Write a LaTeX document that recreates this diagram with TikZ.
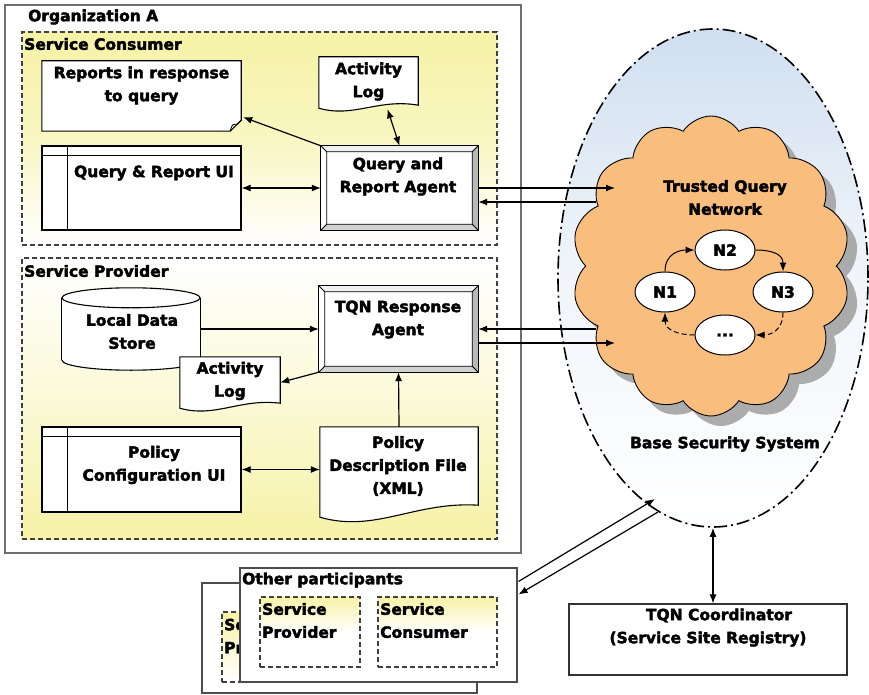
\documentclass[tikz,border=0pt]{standalone}
\usepackage{fontspec}
\setmainfont{DejaVu Sans}
\newfontfamily\heavyfont{DejaVu Sans Bold}[FakeBold=2.5]
\usetikzlibrary{shapes.geometric,shapes.symbols,shadows,calc,arrows.meta}

\definecolor{ylw}{RGB}{246,242,166}
\definecolor{skyb}{RGB}{208,223,240}
\definecolor{cloudor}{RGB}{249,189,125}
\definecolor{framegray}{RGB}{110,110,110}

\tikzset{
  lbl/.style={font=\fontsize{15.5}{23}\selectfont\heavyfont, inner sep=0pt, align=center},
  lbll/.style={lbl, align=left, anchor=west},
  area/.style={rectangle, inner sep=0pt, draw=black!75, dash pattern=on 5pt off 3pt, line width=1.1pt},
  box/.style={rectangle, inner sep=0pt, line width=1.2pt},
  ghost/.style={rectangle, inner sep=0pt, draw=none},
  arr/.style={-{Latex[length=9pt,width=7pt]}, line width=1.2pt},
  darr/.style={{Latex[length=9pt,width=7pt]}-{Latex[length=9pt,width=7pt]}, line width=1.2pt},
  net/.style={ellipse, draw, fill=white, line width=1pt, minimum width=60pt, minimum height=40pt, inner sep=0pt, font=\fontsize{15.5}{18}\selectfont\heavyfont},
}

% raised 3D frame around a named rectangular node
\newcommand\bevelframe[1]{%
  \fill[gray!12] (#1.north west) -- (#1.north east) -- ($(#1.north east)+(-6,6)$) -- ($(#1.north west)+(6,6)$) -- cycle;
  \fill[white] (#1.north west) -- ($(#1.north west)+(6,6)$) -- ($(#1.south west)+(6,-6)$) -- (#1.south west) -- cycle;
  \fill[gray!55] (#1.north east) -- (#1.south east) -- ($(#1.south east)+(-6,-6)$) -- ($(#1.north east)+(-6,6)$) -- cycle;
  \fill[gray!35] (#1.south west) -- (#1.south east) -- ($(#1.south east)+(-6,-6)$) -- ($(#1.south west)+(6,-6)$) -- cycle;
  \fill[white] ($(#1.north west)+(6,6)$) rectangle ($(#1.south east)+(-6,-6)$);
  \draw[line width=1.2pt] (#1.north west) rectangle (#1.south east);
  \draw[line width=0.8pt] ($(#1.north west)+(6,6)$) rectangle ($(#1.south east)+(-6,-6)$)
    (#1.north west) -- ($(#1.north west)+(6,6)$) (#1.north east) -- ($(#1.north east)+(-6,6)$)
    (#1.south west) -- ($(#1.south west)+(6,-6)$) (#1.south east) -- ($(#1.south east)+(-6,-6)$);
}

% document sheet with a wavy lower edge: node, rise of right end, wave amplitude
\newcommand\wavydoc[3]{%
  \filldraw[fill=white, line width=1.1pt] (#1.south west) -- (#1.north west) -- (#1.north east) -- ($(#1.south east)+(0,-#2)$)
    .. controls ($(#1.south east)!0.4!(#1.south west)+(0,-#3)$) and ($(#1.south east)!0.65!(#1.south west)+(0,#3)$) .. (#1.south west) -- cycle;
}

% window-like user interface panel
\newcommand\uipanel[1]{%
  \draw[line width=1.2pt] ($(#1.north west)+(26,0)$) -- ($(#1.south west)+(26,0)$)
    ($(#1.north west)+(0,10)$) -- ($(#1.north east)+(0,10)$);
}

\begin{document}
\begin{tikzpicture}[x=1pt,y=-1pt]
\useasboundingbox (0,0) rectangle (869,695);

% ---------- Base security system and trusted query network ----------
\node[ellipse, draw, line width=1.6pt, dash pattern=on 13pt off 4pt on 2pt off 4pt,
      top color=skyb, bottom color=white, middle color=skyb!30,
      minimum width=310pt, minimum height=498pt, inner sep=0pt] (bss) at (713,278) {};
\node[lbl] (bsst) at (725,444) {Base Security System};

\node[cloud, cloud puffs=14, cloud puff arc=115, aspect=0.95, draw, line width=0.9pt,
      fill=cloudor, minimum width=278pt, minimum height=300pt, inner sep=0pt,
      drop shadow={shadow xshift=10pt, shadow yshift=-10pt, fill=gray!80, opacity=0.8}] (tqnet) at (711,266) {};
\node[lbl] (tqnt) at (725,197.5) {Trusted Query\\Network};

\node[net] (n1) at (665,292) {N1};
\node[net] (n2) at (725,250) {N2};
\node[net] (n3) at (783,292) {N3};
\node[net] (nd) at (725,335) {...};
\draw[arr, line width=1pt] (n1.north) .. controls +(0,-18) and +(-15,0) .. (n2.west);
\draw[arr, line width=1pt] (n2.east) .. controls +(15,0) and +(0,-18) .. (n3.north);
\draw[arr, line width=1pt, dash pattern=on 5pt off 3pt] (n3.south) .. controls +(0,18) and +(15,0) .. (nd.east);
\draw[arr, line width=1pt, dash pattern=on 5pt off 3pt] (nd.west) .. controls +(-15,0) and +(0,18) .. (n1.south);

% ---------- Organization A ----------
\node[draw=framegray, line width=1.3pt, fill=white, minimum width=516pt, minimum height=548pt, inner sep=0pt] (orga) at (263,279) {};
\node[lbll] (orgat) at (28,17) {Organization A};

\node[area, top color=ylw, bottom color=white, middle color=ylw!70, minimum width=475pt, minimum height=213pt] (sc) at (259.5,138.5) {};
\node[lbll] (sct) at (24,44) {Service Consumer};

\node[area, top color=white, bottom color=ylw, middle color=ylw!45, minimum width=475pt, minimum height=281pt] (sp) at (259.5,398.5) {};
\node[lbll] (spt) at (24,271) {Service Provider};

% service consumer parts
\node[ghost, minimum width=199pt, minimum height=70pt] (rep) at (141.5,96) {};
\filldraw[fill=white, line width=1.1pt] (rep.south west) -- (rep.north west) -- (rep.north east)
  -- ($(rep.south east)+(0,-11)$) -- ($(rep.south east)+(-11,0)$) -- cycle;
\draw[line width=0.9pt] ($(rep.south east)+(-11,0)$) .. controls ($(rep.south east)+(-9,-7)$) .. ($(rep.south east)+(-4,-7)$) -- ($(rep.south east)+(0,-11)$);
\node[lbl] (rept) at (141.5,85.5) {Reports in response\\to query};

\node[ghost, minimum width=99pt, minimum height=51pt] (log1) at (368.5,82.5) {};
\wavydoc{log1}{3}{10}
\node[lbl] (log1t) at (368.5,81.5) {Activity\\Log};

\node[box, draw, fill=white, minimum width=199pt, minimum height=84pt] (ui1) at (141.5,188) {};
\uipanel{ui1}
\node[lbl] (ui1t) at (154,173) {Query \& Report UI};

\node[ghost, minimum width=157pt, minimum height=84pt] (qa) at (399.5,188) {};
\bevelframe{qa}
\node[lbl] (qat) at (398,176.5) {Query and\\Report Agent};

% service provider parts
\node[ghost, minimum width=138pt, minimum height=82pt] (lds) at (131,329) {};
\filldraw[fill=white, line width=1.1pt] ($(lds.south)+(0,-10)$) ellipse [x radius=69, y radius=10];
\fill[white] ($(lds.north west)+(0,10)$) rectangle ($(lds.south east)+(0,-10)$);
\draw[line width=1.1pt] ($(lds.north west)+(0,10)$) -- ($(lds.south west)+(0,-10)$)
  ($(lds.north east)+(0,10)$) -- ($(lds.south east)+(0,-10)$);
\filldraw[fill=white, line width=1.1pt] ($(lds.north)+(0,10)$) ellipse [x radius=69, y radius=10];
\node[lbl] (ldst) at (132,331.5) {Local Data\\Store};

\node[ghost, minimum width=100pt, minimum height=51pt] (log2) at (230,382.5) {};
\wavydoc{log2}{5}{10}
\node[lbl] (log2t) at (230,381) {Activity\\Log};

\node[ghost, minimum width=159pt, minimum height=86pt] (tqn) at (398.5,329) {};
\bevelframe{tqn}
\node[lbl] (tqnt2) at (398,319.5) {TQN Response\\Agent};

\node[box, draw, fill=white, minimum width=199pt, minimum height=85pt] (pui) at (141.5,469.5) {};
\uipanel{pui}
\node[lbl] (puit) at (154,465) {Policy\\Configuration UI};

\node[ghost, minimum width=158pt, minimum height=90pt] (pdf) at (399,472) {};
\wavydoc{pdf}{12}{16}
\node[lbl] (pdft) at (398,466) {Policy\\Description File\\(XML)};

% connectors inside organization A
\draw[arr] (qa.north west) -- ($(rep.south east)+(2,-14)$);
\draw[darr] ($(log1.south)+(19,1)$) -- (qa.north);
\draw[darr] (ui1.east) -- (qa.west);
\draw[arr] (lds.east) -- (tqn.west |- lds.east);
\draw[arr] (tqn.south west) -- (log2.east);
\draw[arr] (pdf.north) -- (tqn.south);
\draw[darr] (pui.east) -- (pdf.west |- pui.east);

% connectors to the trusted query network
\coordinate (ca) at (615,188);
\coordinate (cb) at (596,202);
\coordinate (cc) at (596,329);
\coordinate (cd) at (615,343);
\draw[arr] (qa.east) -- (ca);
\draw[arr] (cb) -- (qa.east |- cb);
\draw[arr] (cc) -- (tqn.east |- cc);
\draw[arr] (tqn.east |- cd) -- (cd);

% ---------- Other participants ----------
\node[box, draw=black!70, fill=white, line width=1.1pt, minimum width=275pt, minimum height=110pt] (opback) at (339.5,638) {};
\node[area, top color=ylw, bottom color=white, minimum width=100pt, minimum height=70pt] (bsp) at (272,647) {};
\begin{scope}
  \clip (203,584) rectangle (240,692);
  \node[lbll] (bspt) at (224,636) {Se\\Pr};
\end{scope}

\node[box, draw=black!70, fill=white, line width=1.1pt, minimum width=277pt, minimum height=114pt] (op) at (378.5,625) {};
\node[lbll] (opt) at (242,580) {Other participants};
\node[area, top color=ylw, bottom color=white, middle color=white, minimum width=100pt, minimum height=70pt] (fsp) at (310,632) {};
\node[lbll] (fspt) at (262,620.5) {Service\\Provider};
\node[area, top color=ylw, bottom color=white, middle color=white, minimum width=119pt, minimum height=70pt] (fsc) at (437.5,632) {};
\node[lbll] (fsct) at (380,620.5) {Service\\Consumer};

\coordinate (e1) at (655,499);
\coordinate (e2) at (658,512);
\draw[arr] ($(op.north east)+(1,14)$) -- (e1);
\draw[arr] (e2) -- ($(op.north east)+(1,27)$);

% ---------- TQN coordinator ----------
\node[box, draw=black!80, fill=white, minimum width=278pt, minimum height=71pt] (coord) at (708,639.5) {};
\node[lbl] (coordt) at (708,627.5) {\hspace*{22pt}TQN Coordinator\\(Service Site Registry)};
\draw[darr] (bss.south) -- (bss.south |- coord.north);

\end{tikzpicture}
\end{document}
